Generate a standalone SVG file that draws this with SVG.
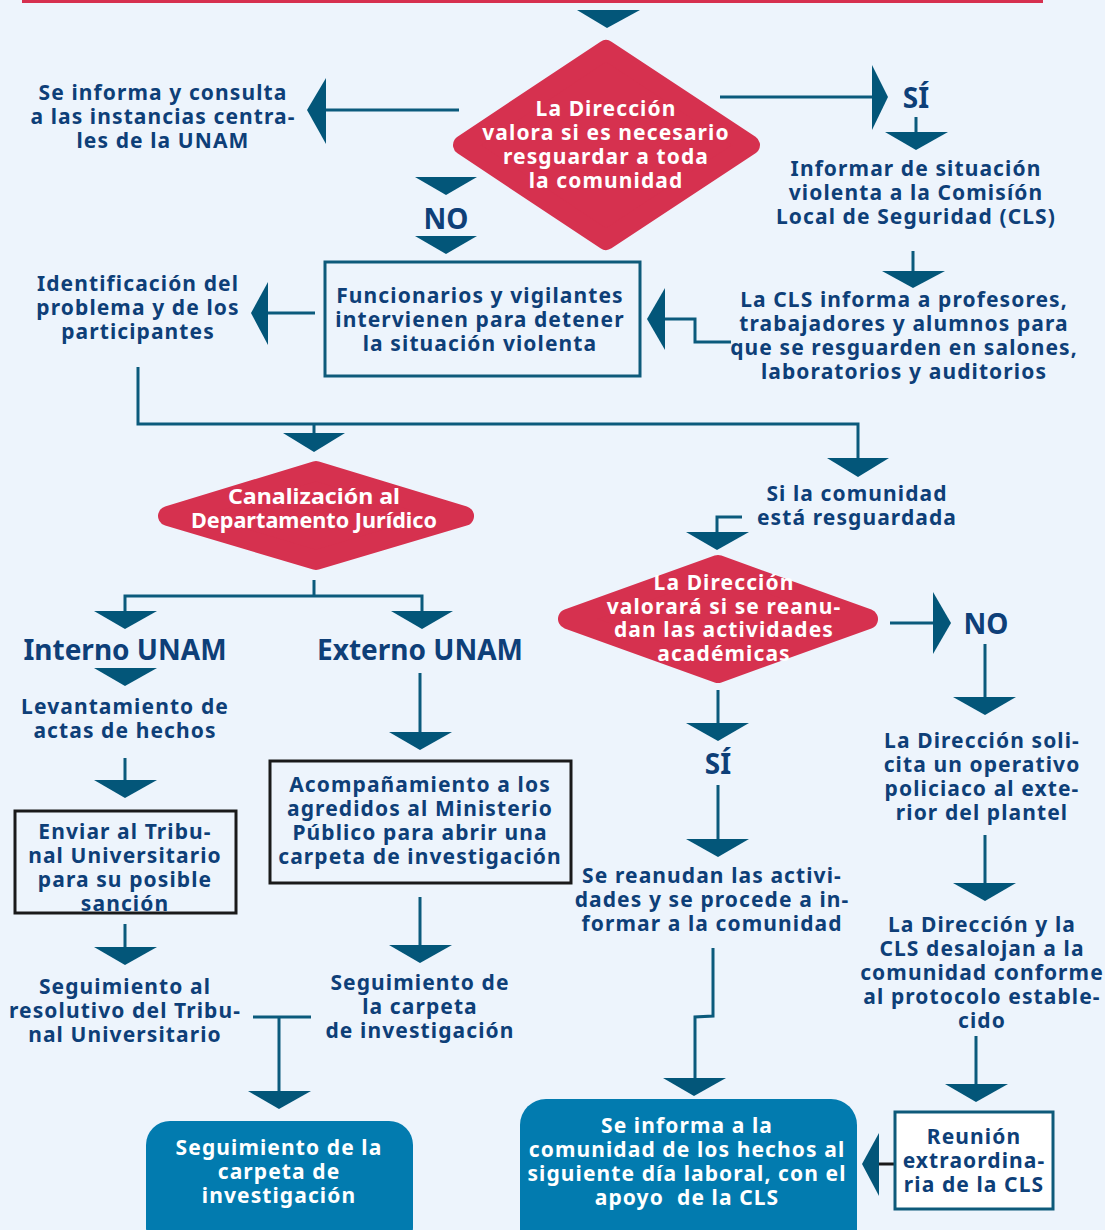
<svg xmlns="http://www.w3.org/2000/svg" width="1105" height="1230" viewBox="0 0 1105 1230">
<style>
.t{font-family:"Noto Sans","DejaVu Sans",sans-serif;font-weight:700;font-size:21px;letter-spacing:1.1px;fill:#0E3F78;text-anchor:middle}
.w{fill:#FFFFFF}
.big{font-size:28px;letter-spacing:0}
.ln{fill:none;stroke:#0B5A7C;stroke-width:3}
.ah{fill:#035679}
.dia{fill:#D6314F;stroke:#D6314F;stroke-width:20;stroke-linejoin:round}
.box{fill:none;stroke:#0E5A7A;stroke-width:3}
.kbox{fill:none;stroke:#1A1A1A;stroke-width:3}
.btn{fill:#027BAF}
</style>
<rect x="0" y="0" width="1105" height="1230" fill="#EDF4FC"/>
<rect x="22" y="0" width="1021" height="3" fill="#D6304F"/>

<g id="connectors">
  <polygon class="ah" points="577,10 640,10 607,28"/>
  <line class="ln" x1="459" y1="110" x2="324" y2="110"/>
  <polygon class="ah" points="307,110 326,78 326,144"/>
  <line class="ln" x1="720" y1="97" x2="874" y2="97"/>
  <polygon class="ah" points="888,97 872,65 872,130"/>
  <line class="ln" x1="916" y1="117" x2="916" y2="133"/>
  <polygon class="ah" points="885,132 948,132 916,150"/>
  <line class="ln" x1="913" y1="251" x2="913" y2="272"/>
  <polygon class="ah" points="882,271 945,271 913,288"/>
  <polyline class="ln" points="731,342 695,342 695,319 663,319"/>
  <polygon class="ah" points="647,319 665,288 665,350"/>
  <polygon class="ah" points="415,177 477,177 446,195"/>
  <polygon class="ah" points="415,236 477,236 446,254"/>
  <line class="ln" x1="315" y1="313" x2="266" y2="313"/>
  <polygon class="ah" points="251,313 268,282 268,345"/>
  <polyline class="ln" points="138,367 138,424 858,424 858,460"/>
  <line class="ln" x1="314" y1="424" x2="314" y2="435"/>
  <polygon class="ah" points="283,433 345,433 314,452"/>
  <polygon class="ah" points="827,458 889,458 858,477"/>
  <line class="ln" x1="314" y1="580" x2="314" y2="596"/>
  <polyline class="ln" points="125,613 125,596 422,596 422,613"/>
  <polygon class="ah" points="94,611 157,611 125,629"/>
  <polygon class="ah" points="391,611 453,611 422,629"/>
  <polygon class="ah" points="94,668 157,668 125,686"/>
  <line class="ln" x1="125" y1="758" x2="125" y2="782"/>
  <polygon class="ah" points="94,780 157,780 125,798"/>
  <line class="ln" x1="125" y1="924" x2="125" y2="949"/>
  <polygon class="ah" points="94,947 157,947 125,965"/>
  <line class="ln" x1="420" y1="673" x2="420" y2="734"/>
  <polygon class="ah" points="389,732 452,732 420,750"/>
  <line class="ln" x1="420" y1="897" x2="420" y2="947"/>
  <polygon class="ah" points="389,945 452,945 420,963"/>
  <line class="ln" x1="253" y1="1017" x2="311" y2="1017"/>
  <line class="ln" x1="279" y1="1017" x2="279" y2="1093"/>
  <polygon class="ah" points="248,1091 311,1091 279,1109"/>
  <polyline class="ln" points="742,517 717,517 717,534"/>
  <polygon class="ah" points="686,532 749,532 717,550"/>
  <line class="ln" x1="890" y1="623" x2="935" y2="623"/>
  <polygon class="ah" points="951,623 933,592 933,654"/>
  <line class="ln" x1="985" y1="644" x2="985" y2="699"/>
  <polygon class="ah" points="953,697 1016,697 985,715"/>
  <line class="ln" x1="985" y1="835" x2="985" y2="885"/>
  <polygon class="ah" points="953,883 1016,883 985,901"/>
  <line class="ln" x1="976" y1="1036" x2="976" y2="1086"/>
  <polygon class="ah" points="945,1084 1008,1084 976,1102"/>
  <line x1="895" y1="1164" x2="877" y2="1164" stroke="#1A1A1A" stroke-width="3"/>
  <polygon class="ah" points="862,1164 879,1133 879,1196"/>
  <line class="ln" x1="718" y1="690" x2="718" y2="725"/>
  <polygon class="ah" points="686,723 749,723 718,741"/>
  <line class="ln" x1="718" y1="785" x2="718" y2="841"/>
  <polygon class="ah" points="686,839 749,839 718,857"/>
  <polyline class="ln" points="713,948 713,1016 695,1017 695,1080"/>
  <polygon class="ah" points="663,1078 726,1078 694,1096"/>
</g>

<g id="n-diamond1">
  <polygon class="dia" points="606,50 750,145 606,240 463,145"/>
  <text class="t w"><tspan x="606" y="116">La Dirección</tspan><tspan x="606" y="140">valora si es necesario</tspan><tspan x="606" y="164">resguardar a toda</tspan><tspan x="606" y="188">la comunidad</tspan></text>
</g>
<g id="n-instancias">
  <text class="t"><tspan x="163" y="100">Se informa y consulta</tspan><tspan x="163" y="124">a las instancias centra-</tspan><tspan x="163" y="148">les de la UNAM</tspan></text>
</g>
<g id="n-si1"><text class="t big" x="916" y="108">SÍ</text></g>
<g id="n-informar">
  <text class="t"><tspan x="916" y="176">Informar de situación</tspan><tspan x="916" y="200">violenta a la Comisíón</tspan><tspan x="916" y="224">Local de Seguridad (CLS)</tspan></text>
</g>
<g id="n-cls-informa">
  <text class="t"><tspan x="904" y="307">La CLS informa a profesores,</tspan><tspan x="904" y="331">trabajadores y alumnos para</tspan><tspan x="904" y="355">que se resguarden en salones,</tspan><tspan x="904" y="379">laboratorios y auditorios</tspan></text>
</g>
<g id="n-no1"><text class="t big" x="446" y="229">NO</text></g>
<g id="n-funcionarios">
  <rect class="box" x="325" y="262" width="315" height="114"/>
  <text class="t"><tspan x="480" y="303">Funcionarios y vigilantes</tspan><tspan x="480" y="327">intervienen para detener</tspan><tspan x="480" y="351">la situación violenta</tspan></text>
</g>
<g id="n-identificacion">
  <text class="t"><tspan x="138" y="291">Identificación del</tspan><tspan x="138" y="315">problema y de los</tspan><tspan x="138" y="339">participantes</tspan></text>
</g>
<g id="n-canalizacion">
  <polygon class="dia" points="316,471 464,516 316,560 168,516"/>
  <text class="t w" style="letter-spacing:0"><tspan x="314" y="504" textLength="172" lengthAdjust="spacingAndGlyphs">Canalización al</tspan><tspan x="314" y="528" textLength="246" lengthAdjust="spacingAndGlyphs">Departamento Jurídico</tspan></text>
</g>
<g id="n-resguardada">
  <text class="t"><tspan x="857" y="501">Si la comunidad</tspan><tspan x="857" y="525">está resguardada</tspan></text>
</g>
<g id="n-diamond3">
  <polygon class="dia" points="718,565 868,619 718,673 568,619"/>
  <text class="t w"><tspan x="724" y="590">La Dirección</tspan><tspan x="724" y="614">valorará si se reanu-</tspan><tspan x="724" y="637">dan las actividades</tspan><tspan x="724" y="661">académicas</tspan></text>
</g>
<g id="n-interno"><text class="t big" x="125" y="660">Interno UNAM</text></g>
<g id="n-externo"><text class="t big" x="420" y="660">Externo UNAM</text></g>
<g id="n-levantamiento">
  <text class="t"><tspan x="125" y="714">Levantamiento de</tspan><tspan x="125" y="738">actas de hechos</tspan></text>
</g>
<g id="n-enviar">
  <rect class="kbox" x="15" y="811" width="221" height="102"/>
  <text class="t"><tspan x="125" y="839">Enviar al Tribu-</tspan><tspan x="125" y="863">nal Universitario</tspan><tspan x="125" y="887">para su posible</tspan><tspan x="125" y="911">sanción</tspan></text>
</g>
<g id="n-seg-resolutivo">
  <text class="t"><tspan x="125" y="994">Seguimiento al</tspan><tspan x="125" y="1018">resolutivo del Tribu-</tspan><tspan x="125" y="1042">nal Universitario</tspan></text>
</g>
<g id="n-acompanamiento">
  <rect class="kbox" x="270" y="761" width="301" height="122"/>
  <text class="t"><tspan x="420" y="792">Acompañamiento a los</tspan><tspan x="420" y="816">agredidos al Ministerio</tspan><tspan x="420" y="840">Público para abrir una</tspan><tspan x="420" y="864">carpeta de investigación</tspan></text>
</g>
<g id="n-seg-carpeta">
  <text class="t"><tspan x="420" y="990">Seguimiento de</tspan><tspan x="420" y="1014">la carpeta</tspan><tspan x="420" y="1038">de investigación</tspan></text>
</g>
<g id="n-final-left">
  <rect class="btn" x="146" y="1121" width="267" height="130" rx="24"/>
  <text class="t w"><tspan x="279" y="1155">Seguimiento de la</tspan><tspan x="279" y="1179">carpeta de</tspan><tspan x="279" y="1203">investigación</tspan></text>
</g>
<g id="n-si2"><text class="t big" x="718" y="774">SÍ</text></g>
<g id="n-no2"><text class="t big" x="986" y="634">NO</text></g>
<g id="n-reanudan">
  <text class="t"><tspan x="712" y="883">Se reanudan las activi-</tspan><tspan x="712" y="907">dades y se procede a in-</tspan><tspan x="712" y="931">formar a la comunidad</tspan></text>
</g>
<g id="n-operativo">
  <text class="t"><tspan x="982" y="748">La Dirección soli-</tspan><tspan x="982" y="772">cita un operativo</tspan><tspan x="982" y="796">policiaco al exte-</tspan><tspan x="982" y="820">rior del plantel</tspan></text>
</g>
<g id="n-desalojan">
  <text class="t"><tspan x="982" y="932">La Dirección y la</tspan><tspan x="982" y="956">CLS desalojan a la</tspan><tspan x="982" y="980">comunidad conforme</tspan><tspan x="982" y="1004">al protocolo estable-</tspan><tspan x="982" y="1028">cido</tspan></text>
</g>
<g id="n-reunion">
  <rect x="895" y="1112" width="158" height="97" fill="#FFFFFF" stroke="#0E5A7A" stroke-width="3"/>
  <text class="t"><tspan x="974" y="1144">Reunión</tspan><tspan x="974" y="1168">extraordina-</tspan><tspan x="974" y="1192">ria de la CLS</tspan></text>
</g>
<g id="n-final-right">
  <rect class="btn" x="520" y="1099" width="337" height="160" rx="26"/>
  <text class="t w" xml:space="preserve"><tspan x="687" y="1133">Se informa a la</tspan><tspan x="687" y="1157">comunidad de los hechos al</tspan><tspan x="687" y="1181">siguiente día laboral, con el</tspan><tspan x="687" y="1205">apoyo  de la CLS</tspan></text>
</g>
</svg>
